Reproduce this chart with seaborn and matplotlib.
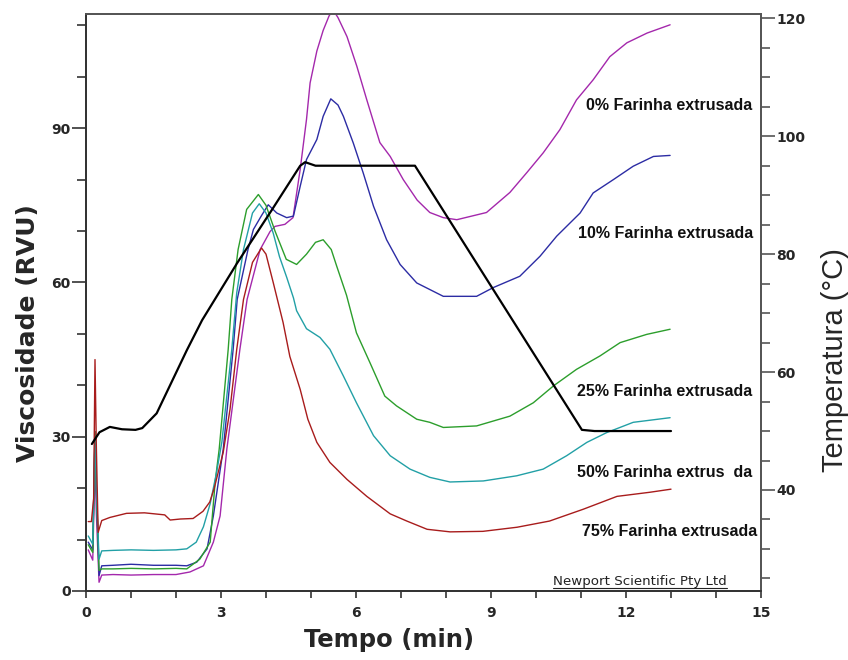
import pandas as pd
import matplotlib
matplotlib.use("Agg")
import matplotlib.pyplot as plt
import seaborn as sns
from matplotlib.ticker import MultipleLocator

# Curvas RVA (tempo em min, viscosidade em RVU)
t_0 = [0.05, 0.15, 0.2, 0.23, 0.29, 0.35, 0.6, 1.0, 1.5, 2.0, 2.31, 2.61, 2.83, 2.98, 3.13,
       3.42, 3.58, 3.87, 4.09, 4.2, 4.42, 4.6, 4.76, 4.9, 4.98, 5.13, 5.27, 5.4, 5.49, 5.6,
       5.8, 6.02, 6.24, 6.53, 6.76, 7.05, 7.36, 7.64, 7.94, 8.24, 8.9, 9.42, 9.8, 10.16,
       10.53, 10.9, 11.27, 11.64, 12.02, 12.47, 12.98]
visc_0 = [8.0, 6.0, 25, 15, 1.7, 3.1, 3.2, 3.1, 3.2, 3.2, 3.7, 4.9, 9.5, 14.6, 27.6,
          47, 56.7, 66.4, 69.9, 70.9, 71.3, 72.6, 82, 91.7, 98.8, 105, 109, 111.8, 113, 111.5,
          107.8, 102, 95.5, 87.2, 84.5, 80, 76, 73.6, 72.6, 72.2, 73.6, 77.5, 81.4, 85.2,
          89.7, 95.5, 99.4, 103.9, 106.6, 108.5, 110.1]

t_10 = [0.05, 0.15, 0.2, 0.23, 0.29, 0.35, 0.6, 1.0, 1.5, 2.0, 2.24, 2.46, 2.69, 2.83, 3.05,
        3.27, 3.36, 3.6, 3.72, 3.9, 4.05, 4.24, 4.46, 4.61, 4.76, 4.9, 5.13, 5.27, 5.44, 5.6,
        5.72, 5.94, 6.16, 6.39, 6.68, 6.98, 7.35, 7.94, 8.68, 9.05, 9.64, 10.09, 10.46, 10.98,
        11.27, 11.72, 12.16, 12.61, 12.98]
visc_10 = [9.5, 8.0, 31, 20, 3.0, 4.9, 5.0, 5.2, 5.0, 5.0, 4.9, 5.6, 8.2, 14.6, 27.6,
           47, 56.7, 66.4, 70.3, 73, 75.1, 73.5, 72.6, 72.9, 78.7, 83.9, 87.8, 92.3, 95.7, 94.5,
           92.3, 87.1, 81.3, 74.8, 68.3, 63.5, 59.9, 57.3, 57.3, 59, 61.2, 65.1, 69, 73.5,
           77.4, 80, 82.6, 84.5, 84.7]

t_25 = [0.05, 0.15, 0.2, 0.23, 0.29, 0.35, 0.6, 1.0, 1.5, 2.0, 2.24, 2.53, 2.76, 2.87, 2.96,
        3.16, 3.24, 3.38, 3.57, 3.83, 4.0, 4.2, 4.45, 4.68, 4.9, 5.1, 5.27, 5.45, 5.57, 5.79,
        6.01, 6.31, 6.64, 6.9, 7.35, 7.64, 7.94, 8.68, 9.42, 9.94, 10.39, 10.9, 11.42, 11.87,
        12.46, 12.98]
visc_25 = [9.0, 7.5, 31, 20, 4.0, 4.3, 4.3, 4.4, 4.3, 4.4, 4.3, 6.2, 9.5, 21.2, 27.6,
           47, 56.7, 66.4, 74.2, 77.1, 75, 70, 64.5, 63.5, 65.5, 67.8, 68.3, 66.4, 63.2, 57.5,
           50.2, 44.4, 37.9, 36, 33.4, 32.8, 31.8, 32.1, 34, 36.6, 39.9, 43.1, 45.7, 48.3,
           49.9, 50.9]

t_50 = [0.05, 0.15, 0.2, 0.23, 0.29, 0.35, 0.6, 1.0, 1.5, 2.0, 2.24, 2.45, 2.61, 2.76, 2.9,
        3.02, 3.13, 3.24, 3.35, 3.5, 3.7, 3.85, 4.0, 4.16, 4.3, 4.46, 4.61, 4.68, 4.9, 5.2,
        5.42, 5.72, 6.01, 6.39, 6.76, 7.2, 7.64, 8.09, 8.83, 9.57, 10.16, 10.68, 11.13, 11.57,
        12.16, 12.98]
visc_50 = [10.7, 9.1, 30, 20, 6.2, 7.8, 7.9, 8.0, 7.9, 8.0, 8.2, 9.5, 12.5, 17, 23,
           29, 38, 47, 58, 66.4, 73.5, 75.3, 73.5, 69.6, 65, 61, 57, 54.5, 51, 49.3,
           47, 41.8, 36.6, 30.2, 26.3, 23.7, 22.1, 21.2, 21.4, 22.4, 23.7, 26.3, 28.9, 30.8,
           32.8, 33.7]

t_75 = [0.05, 0.12, 0.17, 0.2, 0.23, 0.27, 0.35, 0.53, 0.9, 1.3, 1.75, 1.87, 2.1, 2.38, 2.6,
        2.75, 2.85, 3.05, 3.2, 3.35, 3.5, 3.7, 3.9, 4.0, 4.16, 4.38, 4.53, 4.76, 4.93, 5.13,
        5.42, 5.8, 6.24, 6.76, 7.13, 7.58, 8.09, 8.82, 9.58, 10.3, 11.05, 11.8, 12.53, 13.0]
visc_75 = [13.5, 13.5, 18, 45, 28, 11.4, 13.7, 14.3, 15.1, 15.2, 14.8, 13.8, 14.0, 14.1, 15.5,
           17.3, 20, 27, 35.3, 47, 56.7, 63.9, 66.7, 65.5, 60, 52.2, 45.6, 39.2, 33.4, 28.9,
           25, 21.7, 18.4, 15, 13.6, 12, 11.5, 11.6, 12.4, 13.6, 15.9, 18.4, 19.2, 19.8]

# perfil de temperatura (°C)
t_temp = [0.13, 0.3, 0.53, 0.8, 1.1, 1.25, 1.57, 2.24, 2.58, 3.36, 4.13, 4.76, 4.87, 5.1,
          6.0, 7.31, 11.02, 11.3, 13.0]
temp = [47.8, 49.8, 50.7, 50.3, 50.2, 50.5, 53, 63.7, 68.8, 78.5, 87.5, 95, 95.6, 95.0,
        95.0, 95.0, 50.2, 50, 50]

samples = ["0%", "10%", "25%", "50%", "75%"]
labels = ["0% Farinha extrusada", "10% Farinha extrusada", "25% Farinha extrusada",
          "50% Farinha extrus  da", "75% Farinha extrusada"]
colors = ["#a428ac", "#2c2ca4", "#2c9e2c", "#22a0a6", "#a81c1c"]

x_ticks = [0, 3, 6, 9, 12, 15]
visc_ticks = [0, 30, 60, 90]
temp_ticks = [40, 60, 80, 100, 120]

curves = [(t_0, visc_0), (t_10, visc_10), (t_25, visc_25), (t_50, visc_50), (t_75, visc_75)]
df = pd.concat([pd.DataFrame({"Tempo": t, "Viscosidade": v, "amostra": s})
                for s, (t, v) in zip(samples, curves)], ignore_index=True)

sns.set_style("ticks")
plt.rcParams["font.family"] = ["DejaVu Sans"]

fig = plt.figure(figsize=(8.48, 6.6), dpi=100)
ax = fig.add_axes([86 / 848, 1 - 591 / 660, 675 / 848, 577 / 660])

sns.lineplot(data=df, x="Tempo", y="Viscosidade", hue="amostra",
             palette=dict(zip(samples, colors)), estimator=None, sort=False,
             linewidth=1.0, legend=False, ax=ax)

ax2 = ax.twinx()
sns.lineplot(x=t_temp, y=temp, color="black", linewidth=1.6, estimator=None,
             sort=False, ax=ax2)

ax.set_xlim(0, 15)
ax.set_ylim(0, 112.2)
ax2.set_ylim(22.87, 120.73)

ax.set_xticks(x_ticks)
ax.set_xticklabels([str(v) for v in x_ticks], fontsize=10, fontweight="bold")
ax.xaxis.set_minor_locator(MultipleLocator(1))
ax.set_yticks(visc_ticks)
ax.set_yticklabels([str(v) for v in visc_ticks], fontsize=10, fontweight="bold")
ax.yaxis.set_minor_locator(MultipleLocator(10))
ax2.set_yticks(temp_ticks)
ax2.set_yticklabels([str(v) for v in temp_ticks], fontsize=10, fontweight="bold")
ax2.yaxis.set_minor_locator(MultipleLocator(5))

ax.tick_params(axis="x", which="both", length=5, width=1.2, pad=6, color="#333")
ax.tick_params(axis="y", which="major", length=10, width=1.2, pad=1, color="#333")
ax.tick_params(axis="y", which="minor", length=6.5, width=1.2, color="#333")
ax2.tick_params(axis="y", which="major", length=10, width=1.2, pad=1, color="#555")
ax2.tick_params(axis="y", which="minor", length=6.5, width=1.2, color="#555")

for a in (ax, ax2):
    for side, sp in a.spines.items():
        sp.set_visible(True)
        sp.set_linewidth(1.3)
        sp.set_color("#333" if side in ("left", "bottom") else "#555")

ax.set_xlabel("")
ax.set_ylabel("")
ax2.set_ylabel("")

fig.text(389 / 848, 1 - 640 / 660, "Tempo (min)", ha="center", va="center",
         fontsize=17.5, fontweight="bold")
fig.text(28 / 848, 1 - 333 / 660, "Viscosidade (RVU)", ha="center", va="center",
         rotation=90, fontsize=18, fontweight="bold")
fig.text(835 / 848, 1 - 360 / 660, "Temperatura (°C)", ha="center", va="center",
         rotation=90, fontsize=21, family="Liberation Sans")

# rótulos das curvas
label_pos = [(14.8, 94.4), (14.82, 69.5), (14.8, 38.7), (14.8, 23.1), (14.91, 11.5)]
for txt, (lx, ly) in zip(labels, label_pos):
    ax.text(lx, ly, txt, ha="right", va="center", fontsize=11.5, fontweight="bold",
            family="Liberation Sans", color="#111")

# crédito sublinhado
credit = fig.text(553 / 848, 1 - 585 / 660, "Newport Scientific Pty Ltd", ha="left",
                  va="baseline", fontsize=9.6, color="#222")
fig.canvas.draw()
bb = credit.get_window_extent().transformed(fig.transFigure.inverted())
uy = 1 - 587.5 / 660
fig.add_artist(plt.Line2D([bb.x0, bb.x1], [uy, uy], transform=fig.transFigure,
                          color="#222", linewidth=0.8, zorder=5))

fig.savefig("out.png", dpi=100)
